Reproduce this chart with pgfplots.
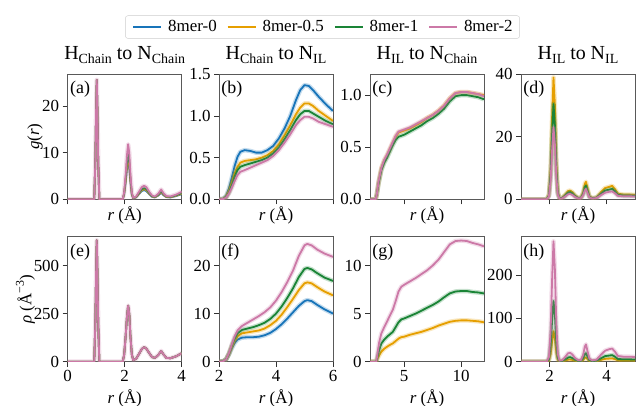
\documentclass[border=0pt]{standalone}
\usepackage{fontspec}
\setmainfont{Liberation Serif}
\usepackage{pgfplots}
\pgfplotsset{compat=1.18}
\usepackage{pgfplotstable}

\newcommand\fs[1]{\fontsize{#1}{#1}\selectfont}
\newcommand\sub[1]{\raisebox{-0.22em}{\fs{14}#1}}

\definecolor{cb}{HTML}{1874B9}
\definecolor{co}{HTML}{E69F00}
\definecolor{cg}{HTML}{1A8436}
\definecolor{cp}{HTML}{CC79A7}

% (a) g(r) H_Chain - N_Chain
\pgfplotstableread{
x b o g p
0 0 0 0 0
0.93 0 0 0 0
0.97 8 8 8 8
1.0 20 20 20 20
1.02 25.6 25.6 25.6 25.6
1.04 20 20 20 20
1.07 8 8 8 8
1.11 0 0 0 0
1.93 0 0 0 0
1.98 1.02 1.13 1.25 1.5
2.03 3.4 3.75 4.15 5
2.08 6.46 7.13 7.9 9.5
2.12 8.02 8.85 9.8 11.8
2.16 6.8 7.5 8.3 10
2.2 3.74 4.13 4.55 5.5
2.25 1.02 1.13 1.25 1.5
2.3 0.2 0.23 0.25 0.3
2.4 0.41 0.45 0.5 0.6
2.5 1.09 1.2 1.33 1.6
2.6 1.77 1.95 2.16 2.6
2.68 1.97 2.18 2.4 2.9
2.76 1.77 1.95 2.16 2.6
2.86 1.09 1.2 1.33 1.6
2.96 0.54 0.6 0.66 0.8
3.06 0.41 0.45 0.5 0.6
3.18 0.82 0.9 1.0 1.2
3.28 1.43 1.58 1.74 2.1
3.36 0.88 0.98 1.08 1.3
3.46 0.48 0.53 0.58 0.7
3.6 0.41 0.45 0.5 0.6
3.8 0.68 0.75 0.83 1.0
4.0 1.09 1.2 1.33 1.6
}\tabA

% (e) rho H_Chain - N_Chain
\pgfplotstableread{
x p
0 0
0.93 0
0.97 200
1.0 490
1.02 632
1.04 490
1.07 200
1.11 0
1.93 0
1.98 35
2.03 125
2.08 235
2.12 292
2.16 250
2.2 135
2.25 38
2.3 8
2.4 15
2.5 40
2.6 66
2.68 76
2.76 68
2.86 45
2.96 24
3.06 20
3.18 35
3.28 56
3.36 38
3.46 20
3.6 18
3.8 28
4.0 44
}\tabE

% (b) g(r) H_Chain - N_IL
\pgfplotstableread{
x b o g p
2.0 0 0 0 0
2.15 0.005 0.004 0.003 0.003
2.25 0.04 0.03 0.025 0.02
2.35 0.13 0.1 0.08 0.07
2.45 0.26 0.2 0.17 0.14
2.55 0.4 0.31 0.27 0.22
2.65 0.51 0.39 0.35 0.29
2.75 0.57 0.44 0.39 0.33
2.9 0.59 0.46 0.41 0.35
3.1 0.58 0.47 0.43 0.38
3.3 0.56 0.48 0.45 0.41
3.5 0.56 0.5 0.47 0.44
3.7 0.59 0.53 0.5 0.47
3.9 0.64 0.58 0.55 0.52
4.1 0.73 0.66 0.62 0.59
4.3 0.85 0.77 0.72 0.68
4.5 1.0 0.89 0.83 0.78
4.7 1.19 1.02 0.95 0.89
4.85 1.31 1.1 1.02 0.95
5.0 1.37 1.15 1.06 0.99
5.15 1.36 1.15 1.06 0.99
5.3 1.31 1.12 1.03 0.97
5.5 1.23 1.06 0.99 0.93
5.75 1.14 1.0 0.94 0.9
6.0 1.06 0.94 0.9 0.87
}\tabB

% (f) rho H_Chain - N_IL
\pgfplotstableread{
x b o g p
2.0 0 0 0 0
2.15 0.1 0.1 0.1 0.1
2.25 0.5 0.5 0.5 0.5
2.35 1.5 1.6 1.7 1.8
2.45 2.8 3.1 3.4 3.6
2.55 3.9 4.4 4.8 5.3
2.65 4.6 5.3 5.9 6.5
2.8 5.0 5.9 6.6 7.4
3.0 5.1 6.1 6.9 8.1
3.2 5.1 6.3 7.2 8.8
3.4 5.2 6.5 7.6 9.5
3.6 5.5 6.9 8.1 10.3
3.8 6.0 7.6 8.9 11.3
4.0 6.8 8.5 10.0 12.7
4.2 7.8 9.8 11.5 14.5
4.4 9.0 11.4 13.3 16.6
4.6 10.3 13.1 15.3 19.0
4.8 11.6 14.9 17.6 22.0
5.0 12.6 16.3 19.3 24.2
5.1 12.8 16.5 19.5 24.5
5.25 12.6 16.3 19.2 24.2
5.45 11.8 15.5 18.4 23.3
5.7 10.9 14.6 17.5 22.5
6.0 10.0 13.8 16.8 21.8
}\tabF

% (c) g(r) H_IL - N_Chain
\pgfplotstableread{
x o g p
2.0 0 0 0
2.5 0 0 0
2.6 0.05 0.05 0.05
2.75 0.16 0.15 0.17
3.0 0.3 0.28 0.3
3.25 0.37 0.35 0.38
3.5 0.42 0.4 0.43
3.75 0.48 0.46 0.49
4.0 0.54 0.52 0.55
4.25 0.6 0.57 0.61
4.5 0.64 0.6 0.65
4.75 0.65 0.61 0.66
5.0 0.66 0.62 0.67
5.5 0.68 0.65 0.69
6.0 0.71 0.68 0.72
6.5 0.74 0.71 0.75
7.0 0.78 0.75 0.78
7.5 0.81 0.78 0.81
8.0 0.85 0.82 0.85
8.5 0.9 0.87 0.9
9.0 0.97 0.94 0.97
9.5 1.02 0.99 1.02
10.0 1.03 1.0 1.03
10.5 1.03 1.0 1.03
11.0 1.02 0.99 1.02
11.5 1.01 0.98 1.01
12.0 1.0 0.96 0.99
}\tabC

% (g) rho H_IL - N_Chain
\pgfplotstableread{
x o g p
2.0 0 0 0
2.55 0 0 0
2.65 0.3 0.5 0.8
2.8 0.65 1.2 2.0
3.0 1.05 1.9 2.95
3.25 1.35 2.3 3.6
3.5 1.56 2.6 4.2
3.75 1.75 2.85 4.8
4.0 1.9 3.1 5.4
4.25 2.15 3.6 6.3
4.5 2.4 4.1 7.3
4.75 2.55 4.4 7.8
5.0 2.6 4.5 8.0
5.5 2.8 4.75 8.35
6.0 2.95 5.0 8.7
6.5 3.1 5.3 9.1
7.0 3.3 5.6 9.5
7.5 3.5 5.9 10.0
8.0 3.75 6.25 10.6
8.5 3.95 6.7 11.4
9.0 4.15 7.1 12.2
9.5 4.25 7.3 12.55
10.0 4.3 7.35 12.6
10.5 4.3 7.35 12.55
11.0 4.25 7.25 12.35
11.5 4.2 7.2 12.2
12.0 4.1 7.1 12.0
}\tabG

% (d) g(r) H_IL - N_IL
\pgfplotstableread{
x o g p
1.0 0 0 0
1.9 0 0 0
1.98 1.5 1.2 0.9
2.04 10 8 6
2.09 26 20.5 15.5
2.14 39 30.5 23
2.19 30 23.5 17.5
2.24 12 9.5 7
2.29 2.5 2 1.5
2.35 0.3 0.3 0.2
2.45 0.5 0.4 0.3
2.55 1.5 1.2 0.9
2.65 2.6 2.1 1.6
2.72 2.8 2.3 1.7
2.8 2.3 1.9 1.4
2.9 1.2 1.0 0.7
3.0 0.5 0.4 0.3
3.1 0.5 0.4 0.3
3.18 2.2 1.7 1.3
3.24 5.0 3.8 2.9
3.28 5.6 4.3 3.3
3.33 3.6 2.8 2.1
3.4 1.0 0.8 0.6
3.5 0.4 0.3 0.25
3.65 0.6 0.5 0.4
3.8 2.2 1.7 1.3
3.95 3.6 2.8 2.1
4.1 4.0 3.1 2.4
4.2 4.3 3.3 2.5
4.3 3.2 2.5 1.9
4.4 1.8 1.4 1.1
4.6 1.5 1.2 0.95
4.8 1.5 1.2 0.95
5.0 1.4 1.1 0.9
}\tabD

% (h) rho H_IL - N_IL
\pgfplotstableread{
x o g p
1.0 0 0 0
1.9 0 0 0
1.98 2.7 5.5 10.9
2.04 18 36.8 72.6
2.09 46.8 94.3 187.6
2.14 70.2 140.3 278.3
2.19 54 108.1 211.8
2.24 21.6 43.7 84.7
2.29 4.5 9.2 18.2
2.35 0.5 1.4 2.4
2.45 0.9 1.8 3.6
2.55 2.7 5.5 10.9
2.65 4.7 9.7 19.4
2.72 5.0 10.6 20.6
2.8 4.1 8.7 16.9
2.9 2.2 4.6 8.5
3.0 0.9 1.8 3.6
3.1 0.9 1.8 3.6
3.18 4.0 7.8 15.7
3.24 9.0 17.5 35.1
3.28 10.1 19.8 39.9
3.33 6.5 12.9 25.4
3.4 1.8 3.7 7.3
3.5 0.7 1.4 3.0
3.65 1.1 2.3 4.8
3.8 4.0 7.8 15.7
3.95 6.5 12.9 25.4
4.1 7.2 14.3 29.0
4.2 7.7 15.2 30.3
4.3 5.8 11.5 23.0
4.4 3.2 6.4 13.3
4.6 2.7 5.5 11.5
4.8 2.7 5.5 11.5
5.0 2.5 5.1 10.9
}\tabH

\newcommand\ser[3]{%
  \addplot[#3, line width=4.5bp, opacity=0.25, forget plot] table[x=x, y=#2] {#1};
  \addplot[#3, line width=1.8bp] table[x=x, y=#2] {#1};
}
\newcommand\lin[3]{%
  \addplot[#3, line width=1.8bp] table[x=x, y=#2] {#1};
}

\pgfplotsset{
  panel/.style={
    scale only axis, width=114bp, height=125bp,
    axis line style={black!65, line width=0.8bp},
    every tick/.style={black!80, line width=0.8bp},
    tick align=outside, major tick length=5bp,
    tick pos=left,
    tick label style={font=\fs{17}},
    xticklabel={\pgfmathprintnumber[assume math mode=true]{\tick}},
    yticklabel={\pgfmathprintnumber[assume math mode=true]{\tick}},
    xlabel style={font=\fs{17}, at={(axis description cs:0.5,0)}, anchor=base, inner sep=0pt},
    ylabel style={font=\fs{17}},
    title style={font=\fs{20}, at={(axis description cs:0.5,1)}, anchor=base, yshift=9bp, inner sep=0pt},
    xlabel={\textit{r} (Å)},
    every axis plot/.append style={line join=round},
  },
  toprow/.style={xticklabels={}, xlabel style={yshift=-21.7bp}},
  botrow/.style={xlabel style={yshift=-42bp}},
  onedec/.style={yticklabel style={/pgf/number format/.cd, fixed, fixed zerofill, precision=1}},
}
\newcommand\plab[1]{\node[anchor=north west, inner sep=0pt, font=\fs{18}] at (rel axis cs:0.02,0.945) {(#1)};}

\begin{document}
\begin{tikzpicture}
\path[use as bounding box] (0,0) rectangle (636bp,406bp);

% ---------- top row ----------
\begin{axis}[panel, toprow, at={(67.7bp,206.7bp)}, anchor=south west,
  xmin=0, xmax=4, ymin=0, ymax=26.8, xtick={0,2,4}, ytick={0,10,20},
  title={H\sub{Chain} to N\sub{Chain}},
  ylabel={\textit{g}(\textit{r})},
  ylabel style={at={(axis description cs:-0.287,0.5)}, anchor=center}]
\lin{\tabA}{b}{cb}
\lin{\tabA}{o}{co}
\lin{\tabA}{g}{cg}
\ser{\tabA}{p}{cp}
\plab{a}
\end{axis}

\begin{axis}[panel, toprow, onedec, at={(219bp,206.7bp)}, anchor=south west,
  xmin=2, xmax=6, ymin=0, ymax=1.5, xtick={2,4,6}, ytick={0,0.5,1,1.5},
  title={H\sub{Chain} to N\sub{IL}},
  legend columns=4,
  legend image code/.code={\draw[#1, line width=1.8bp, opacity=1] (0bp,0bp) -- (28bp,0bp);},
  legend style={at={(0.908,1.378)}, anchor=center, draw=black!20, rounded corners=2.5bp,
    fill=white, font=\fs{17}, inner xsep=7bp, inner ysep=5bp, nodes={inner sep=0pt},
    /tikz/every even column/.append style={column sep=10bp},
    /tikz/every odd column/.append style={column sep=6bp}}]
\ser{\tabB}{b}{cb}
\ser{\tabB}{o}{co}
\ser{\tabB}{g}{cg}
\ser{\tabB}{p}{cp}
\legend{8mer-0,8mer-0.5,8mer-1,8mer-2}
\plab{b}
\end{axis}

\begin{axis}[panel, toprow, onedec, at={(370bp,206.7bp)}, anchor=south west,
  xmin=2, xmax=12, ymin=0, ymax=1.2, xtick={5,10}, ytick={0,0.5,1},
  title={H\sub{IL} to N\sub{Chain}}]
\ser{\tabC}{o}{co}
\ser{\tabC}{g}{cg}
\ser{\tabC}{p}{cp}
\plab{c}
\end{axis}

\begin{axis}[panel, toprow, at={(521bp,206.7bp)}, anchor=south west,
  xmin=1, xmax=5, ymin=0, ymax=40, xtick={2,4}, ytick={0,20,40},
  title={H\sub{IL} to N\sub{IL}}]
\ser{\tabD}{o}{co}
\ser{\tabD}{g}{cg}
\ser{\tabD}{p}{cp}
\plab{d}
\end{axis}

% ---------- bottom row ----------
\begin{axis}[panel, botrow, at={(67.7bp,44.3bp)}, anchor=south west,
  xmin=0, xmax=4, ymin=0, ymax=651, xtick={0,2,4}, ytick={0,250,500},
  ylabel={\textit{ρ} (Å\raisebox{0.45em}{\fs{12}−3})},
  ylabel style={at={(axis description cs:-0.37,0.5)}, anchor=center}]
\lin{\tabE}{p}{cb}
\lin{\tabE}{p}{co}
\lin{\tabE}{p}{cg}
\ser{\tabE}{p}{cp}
\plab{e}
\end{axis}

\begin{axis}[panel, botrow, at={(219bp,44.3bp)}, anchor=south west,
  xmin=2, xmax=6, ymin=0, ymax=26, xtick={2,4,6}, ytick={0,10,20}]
\ser{\tabF}{b}{cb}
\ser{\tabF}{o}{co}
\ser{\tabF}{g}{cg}
\ser{\tabF}{p}{cp}
\plab{f}
\end{axis}

\begin{axis}[panel, botrow, at={(370bp,44.3bp)}, anchor=south west,
  xmin=2, xmax=12, ymin=0, ymax=13, xtick={5,10}, ytick={0,5,10}]
\ser{\tabG}{o}{co}
\ser{\tabG}{g}{cg}
\ser{\tabG}{p}{cp}
\plab{g}
\end{axis}

\begin{axis}[panel, botrow, at={(521bp,44.3bp)}, anchor=south west,
  xmin=1, xmax=5, ymin=0, ymax=289, xtick={2,4}, ytick={0,100,200}]
\ser{\tabH}{o}{co}
\ser{\tabH}{g}{cg}
\ser{\tabH}{p}{cp}
\plab{h}
\end{axis}
\end{tikzpicture}
\end{document}
